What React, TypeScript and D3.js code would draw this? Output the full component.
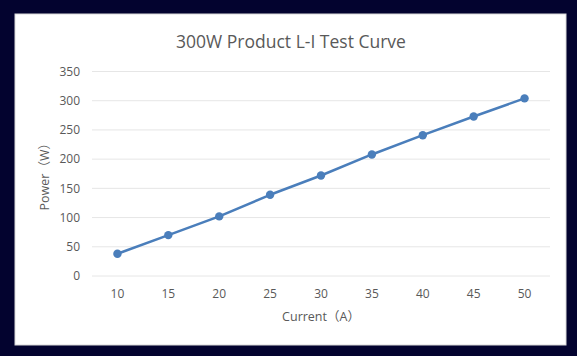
import React from "react";
import * as d3 from "d3";

const categories: string[] = ["10", "15", "20", "25", "30", "35", "40", "45", "50"];
const powerValues: number[] = [38, 70, 102, 139, 172, 208, 241, 273, 304];
const yTicks: number[] = [0, 50, 100, 150, 200, 250, 300, 350];
const titleText = "300W Product L-I Test Curve";
const xTitle = "Current（A）";
const yTitle = "Power（W）";

const W = 577;
const H = 356;
const plot = { left: 92, right: 550, top: 71.5, bottom: 276 };
const FONT = "'Open Sans', 'Noto Sans CJK SC', sans-serif";
const TEXT = "#595959";
const BLUE = "#4A7EBB";

export default function App() {
  const x = d3.scaleBand<string>().domain(categories).range([plot.left, plot.right]);
  const y = d3.scaleLinear().domain([0, 350]).range([plot.bottom, plot.top]);
  const cx = (c: string) => (x(c) ?? 0) + x.bandwidth() / 2;
  const line = d3
    .line<number>()
    .x((_, i) => cx(categories[i]))
    .y((d) => y(d));

  return (
    <svg
      width={W}
      height={H}
      style={{ position: "absolute", left: 0, top: 0, display: "block" }}
      fontFamily={FONT}
    >
      <rect x={0} y={0} width={W} height={H} fill="#03032F" />
      <rect x={15} y={14} width={551} height={331} fill="#FFFFFF" stroke="#D9D9D9" strokeWidth={1} />
      <text x={291} y={48} textAnchor="middle" fontSize={17.5} fill={TEXT}>
        {titleText}
      </text>
      {yTicks.map((t) => (
        <g key={t}>
          <line x1={plot.left} x2={plot.right} y1={y(t)} y2={y(t)} stroke="#E6E6E6" strokeWidth={1} />
          <text x={80} y={y(t)} dy="0.35em" textAnchor="end" fontSize={12} fill={TEXT}>
            {t}
          </text>
        </g>
      ))}
      {categories.map((c) => (
        <text key={c} x={cx(c)} y={298} textAnchor="middle" fontSize={12} fill={TEXT}>
          {c}
        </text>
      ))}
      <text x={(plot.left + plot.right) / 2} y={321} textAnchor="middle" fontSize={12.5} fill={TEXT}>
        {xTitle}
      </text>
      <text
        transform={`translate(49, ${(plot.top + plot.bottom) / 2}) rotate(-90)`}
        textAnchor="middle"
        fontSize={12.5}
        fill={TEXT}
      >
        {yTitle}
      </text>
      <path d={line(powerValues) ?? ""} fill="none" stroke={BLUE} strokeWidth={2.5} strokeLinejoin="round" />
      {powerValues.map((v, i) => (
        <circle key={i} cx={cx(categories[i])} cy={y(v)} r={4.2} fill={BLUE} />
      ))}
    </svg>
  );
}
